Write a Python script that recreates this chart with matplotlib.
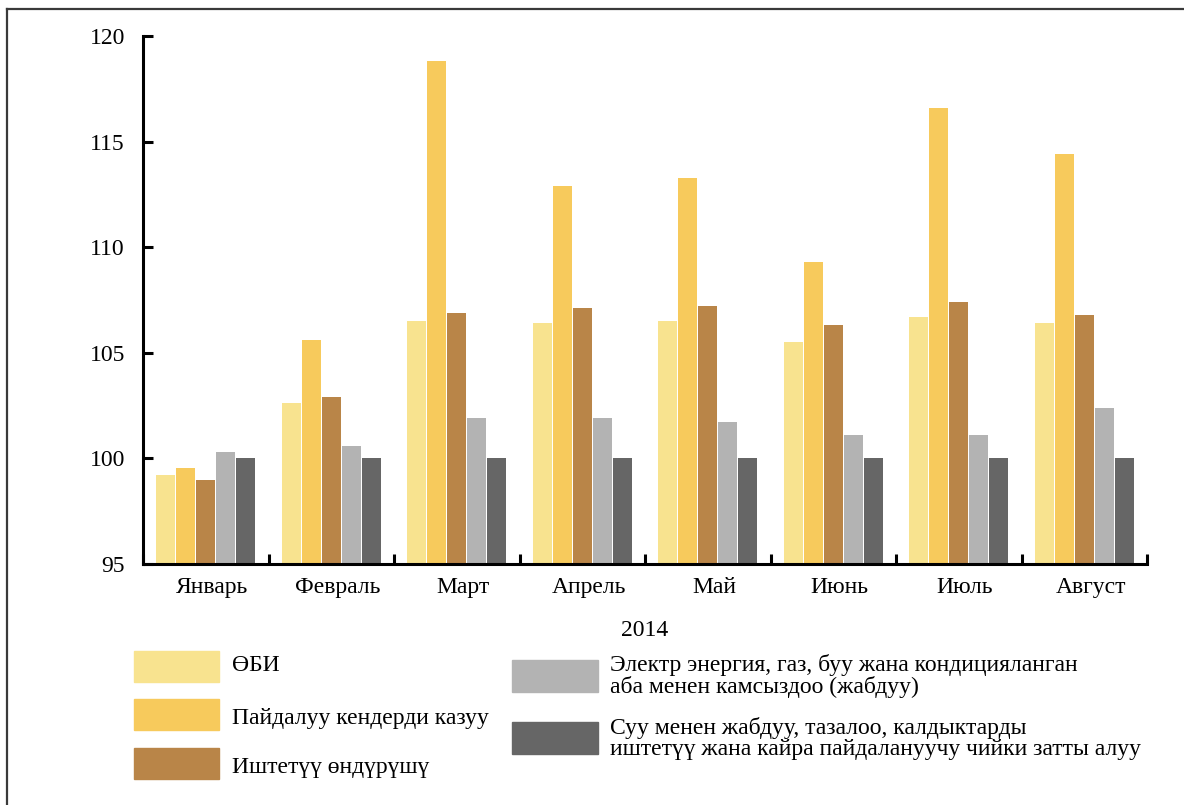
import matplotlib
matplotlib.use("Agg")
import matplotlib.pyplot as plt
import matplotlib.transforms as mtransforms
from matplotlib.patches import Rectangle
from matplotlib.lines import Line2D
import numpy as np

months = ["Январь", "Февраль", "Март", "Апрель", "Май", "Июнь", "Июль", "Август"]
year_label = "2014"
series_names = [
    "ӨБИ",
    "Пайдалуу кендерди казуу",
    "Иштетүү өндүрүшү",
    "Электр энергия, газ, буу жана кондицияланган\nаба менен камсыздоо (жабдуу)",
    "Суу менен жабдуу, тазалоо, калдыктарды\nиштетүү жана кайра пайдалануучу чийки затты алуу",
]
obi = [99.2, 102.6, 106.5, 106.4, 106.5, 105.5, 106.7, 106.4]
mining = [99.55, 105.6, 118.8, 112.9, 113.3, 109.3, 116.6, 114.4]
manufacturing = [99.0, 102.9, 106.9, 107.1, 107.2, 106.3, 107.4, 106.8]
electricity = [100.3, 100.6, 101.9, 101.9, 101.7, 101.1, 101.1, 102.4]
water = [100.0, 100.0, 100.0, 100.0, 100.0, 100.0, 100.0, 100.0]
yticks = [95, 100, 105, 110, 115, 120]

colors = ["#F8E38F", "#F7CA5C", "#B98548", "#B3B3B3", "#666666"]
series = [obi, mining, manufacturing, electricity, water]

plt.rcParams['font.family'] = ['Liberation Serif', 'DejaVu Serif']

W, H = 1184, 805
fig = plt.figure(figsize=(W / 100, H / 100), dpi=100)
ax = fig.add_axes([143 / W, 1 - 564 / H, (1147 - 143) / W, (564 - 36) / H])

n = len(months)
centers = np.arange(n) + 0.5
step = 0.16
width = 0.152
for k, (vals, col) in enumerate(zip(series, colors)):
    off = (k - 2) * step
    ax.bar(centers + off, np.array(vals) - 95, bottom=95, width=width, color=col,
           linewidth=0, zorder=2)

ax.set_xlim(0, n)
ax.set_ylim(95, 120)
ax.set_yticks(yticks)
ax.set_yticklabels([str(t) for t in yticks], fontsize=17)
ax.set_xticks(np.arange(n + 1))
ax.set_xticklabels([])
ax.tick_params(axis='both', direction='in', length=7, width=2.2)
ax.tick_params(axis='y', pad=13)

month_tr = ax.transData + mtransforms.ScaledTranslation(0, -13 / 100, fig.dpi_scale_trans)
for i, m in enumerate(months):
    ax.text(centers[i] + 0.05, 95, m, transform=month_tr, ha='center', va='top',
            fontsize=17)

fig.text(645 / W, 1 - 630 / H, year_label, ha='center', va='center', fontsize=17)

for s in ['top', 'right']:
    ax.spines[s].set_visible(False)
for s in ['left', 'bottom']:
    ax.spines[s].set_linewidth(2.2)

# legend (manual)
def fx(x):
    return x / W

def fy(y):
    return 1 - y / H

left_items = [(0, 651, 665), (1, 699, 718), (2, 748, 767)]
for k, ytop, ytxt in left_items:
    fig.patches.append(Rectangle((fx(134), fy(ytop + 31)), 85 / W, 31 / H,
                                 transform=fig.transFigure, color=colors[k]))
    fig.text(fx(232), fy(ytxt), series_names[k], ha='left', va='center', fontsize=17)

right_items = [(3, 660, 676), (4, 722, 738)]
for k, ytop, ytxt in right_items:
    fig.patches.append(Rectangle((fx(512), fy(ytop + 32)), 86 / W, 32 / H,
                                 transform=fig.transFigure, color=colors[k]))
    fig.text(fx(610), fy(ytxt), series_names[k], ha='left', va='center', fontsize=17,
             linespacing=1.0)

# partial frame (left and top edges)
fig.lines.append(Line2D([fx(6.5), fx(6.5)], [0, fy(9.5)], transform=fig.transFigure,
                        color='#3a3a3a', linewidth=1.6))
fig.lines.append(Line2D([fx(6.5), 1], [fy(9.5), fy(9.5)], transform=fig.transFigure,
                        color='#3a3a3a', linewidth=1.6))

fig.savefig("out.png", dpi=100)
